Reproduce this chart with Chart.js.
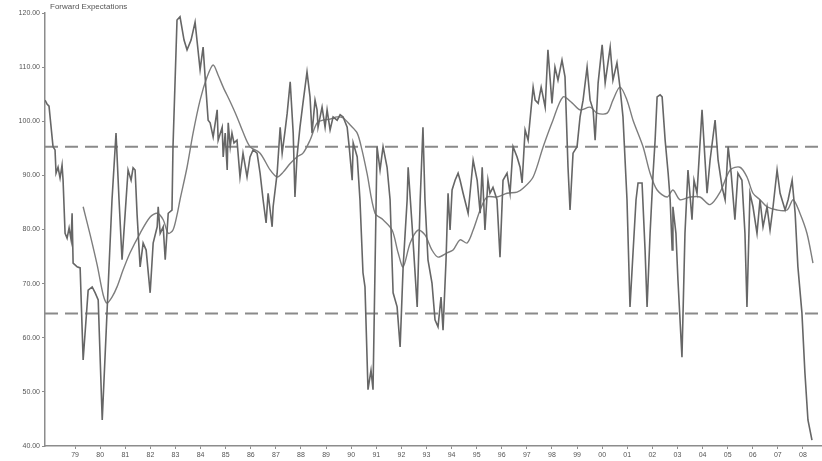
<!DOCTYPE html>
<html>
<head>
<meta charset="utf-8">
<script src="https://cdn.jsdelivr.net/npm/chart.js@4/dist/chart.umd.min.js"></script>
<style>
  html, body { margin: 0; padding: 0; background: #ffffff; }
  #wrap { width: 822px; height: 461px; position: relative; }
</style>
</head>
<body>
<div id="wrap"><canvas id="chart"></canvas></div>
<script>
// Forward Expectations index, late 1977 to mid 2008 (dates as decimal years)
const chartTitle = 'Forward Expectations';

const yearLabels = ['79','80','81','82','83','84','85','86','87','88','89','90','91','92','93','94','95','96','97','98','99','00','01','02','03','04','05','06','07','08'];

const indexDates = [
  1977.80,1977.88,1977.96,1978.12,1978.20,1978.24,1978.32,1978.40,1978.48,1978.52,
  1978.60,1978.68,1978.76,1978.84,1978.88,1978.92,1979.08,1979.20,1979.32,1979.52,
  1979.68,1979.80,1979.92,1980.08,1980.24,1980.47,1980.63,1980.75,1980.87,1980.99,
  1981.11,1981.23,1981.31,1981.39,1981.47,1981.59,1981.71,1981.83,1981.99,1982.11,
  1982.27,1982.31,1982.39,1982.51,1982.59,1982.71,1982.86,1982.90,1983.06,1983.18,
  1983.34,1983.46,1983.62,1983.78,1983.98,1984.10,1984.18,1984.30,1984.38,1984.50,
  1984.66,1984.70,1984.86,1984.90,1984.98,1985.06,1985.10,1985.18,1985.25,1985.33,
  1985.45,1985.57,1985.69,1985.85,1985.97,1986.09,1986.25,1986.37,1986.49,1986.61,
  1986.69,1986.85,1986.89,1987.05,1987.17,1987.25,1987.37,1987.45,1987.57,1987.69,
  1987.76,1987.84,1987.96,1988.08,1988.24,1988.36,1988.44,1988.56,1988.64,1988.68,
  1988.84,1988.96,1989.04,1989.16,1989.28,1989.44,1989.56,1989.68,1989.84,1989.92,
  1990.04,1990.08,1990.24,1990.35,1990.47,1990.55,1990.67,1990.79,1990.87,1991.03,
  1991.15,1991.27,1991.43,1991.55,1991.67,1991.83,1991.95,1992.07,1992.23,1992.27,
  1992.43,1992.63,1992.75,1992.86,1992.94,1993.06,1993.22,1993.34,1993.46,1993.58,
  1993.66,1993.78,1993.86,1993.94,1994.02,1994.14,1994.26,1994.34,1994.46,1994.66,
  1994.86,1995.02,1995.14,1995.22,1995.33,1995.45,1995.53,1995.65,1995.81,1995.93,
  1996.05,1996.21,1996.33,1996.45,1996.61,1996.73,1996.81,1996.93,1997.05,1997.25,
  1997.33,1997.45,1997.57,1997.73,1997.84,1998.00,1998.12,1998.24,1998.40,1998.52,
  1998.64,1998.72,1998.84,1999.00,1999.12,1999.24,1999.40,1999.52,1999.64,1999.72,
  1999.84,2000.00,2000.12,2000.32,2000.43,2000.59,2000.71,2000.83,2000.99,2001.11,
  2001.23,2001.35,2001.43,2001.59,2001.71,2001.79,2001.91,2002.03,2002.11,2002.19,
  2002.31,2002.39,2002.51,2002.63,2002.71,2002.79,2002.82,2002.94,2003.02,2003.18,
  2003.30,2003.42,2003.58,2003.66,2003.78,2003.98,2004.10,2004.18,2004.30,2004.50,
  2004.62,2004.78,2004.90,2005.02,2005.14,2005.29,2005.41,2005.57,2005.69,2005.77,
  2005.89,2006.01,2006.17,2006.29,2006.41,2006.57,2006.69,2006.81,2006.97,2007.09,
  2007.29,2007.41,2007.57,2007.69,2007.80,2007.96,2008.08,2008.20,2008.36
];
const indexValues = [
  103.9,103.2,102.8,95.3,94.7,90.4,91.5,89.5,91.9,89.1,
  79.3,78.4,80.3,78.1,83.0,73.8,73.1,72.9,55.9,68.8,
  69.4,68.3,67.0,44.8,61.4,85.5,97.8,85.5,74.4,82.7,
  91.0,89.1,91.4,91.0,82.7,73.1,77.5,76.2,68.3,77.5,
  80.5,84.2,79.3,80.5,74.4,83.0,83.6,95.3,118.7,119.3,
  115.0,113.2,115.0,118.3,109.5,113.7,108.2,100.2,99.7,97.1,
  102.1,96.5,98.9,93.4,97.8,91.0,99.7,95.3,97.8,96.0,
  96.5,89.7,94.1,89.7,93.4,94.7,94.1,90.4,85.5,81.2,
  86.7,80.5,84.2,90.4,98.9,94.1,98.4,101.5,107.3,97.8,
  86.0,93.4,98.9,103.4,109.1,104.5,97.8,103.9,102.1,98.9,
  102.6,98.9,102.1,98.4,100.8,100.2,101.2,100.8,98.9,95.3,
  89.1,96.0,93.4,85.5,72.0,69.4,50.4,54.0,50.4,95.3,
  91.0,95.3,91.5,85.5,68.3,65.7,58.3,73.1,85.5,91.5,
  80.5,65.7,85.5,98.9,85.5,74.4,70.1,63.3,62.0,67.5,
  61.4,74.4,86.7,79.9,87.3,89.1,90.4,89.1,86.7,83.0,
  92.8,89.1,83.0,91.5,79.9,89.1,86.7,87.8,85.5,74.9,
  89.1,90.4,86.7,95.3,93.4,91.5,88.6,98.4,96.5,106.3,
  103.9,103.3,106.3,102.6,113.2,103.3,110.0,107.6,111.3,108.2,
  91.5,83.6,94.1,95.3,100.8,103.9,110.0,103.9,102.1,96.5,
  107.1,114.1,107.1,113.7,107.6,110.8,106.3,100.8,85.5,65.7,
  75.7,85.5,88.6,88.6,76.2,65.7,79.3,90.4,96.5,104.5,
  104.9,104.5,96.5,90.4,85.5,76.2,84.2,79.3,70.7,56.4,
  79.3,91.0,81.8,89.1,86.7,102.1,92.8,86.7,92.8,100.2,
  92.8,87.8,85.5,95.3,90.4,81.8,90.4,89.1,79.3,65.7,
  86.7,84.2,79.3,85.5,80.5,84.2,79.9,84.2,91.0,86.7,
  83.6,85.5,89.1,83.0,73.1,64.6,53.5,44.8,41.1
];

// Smoothed (moving average) line
const avgDates = [
  1979.32,1979.60,1979.88,1980.12,1980.27,1980.47,1980.67,1980.91,1981.19,1981.59,
  1981.99,1982.27,1982.51,1982.71,1982.90,1983.06,1983.18,1983.46,1983.70,1983.98,
  1984.26,1984.50,1984.70,1984.90,1985.18,1985.45,1985.69,1985.97,1986.37,1986.77,
  1987.05,1987.29,1987.57,1987.84,1988.08,1988.36,1988.64,1988.88,1989.16,1989.44,
  1989.68,1989.96,1990.24,1990.43,1990.63,1990.95,1991.27,1991.63,1991.87,1992.07,
  1992.35,1992.66,1992.94,1993.22,1993.46,1993.82,1994.06,1994.34,1994.62,1994.86,
  1995.14,1995.41,1995.81,1996.21,1996.61,1996.85,1997.25,1997.65,1998.04,1998.44,
  1998.80,1999.12,1999.52,1999.80,2000.20,2000.43,2000.71,2000.99,2001.23,2001.63,
  2001.91,2002.19,2002.59,2002.82,2003.10,2003.50,2003.90,2004.30,2004.70,2005.10,
  2005.49,2005.77,2006.01,2006.29,2006.57,2006.97,2007.37,2007.61,2007.88,2008.16,
  2008.40
];
const avgValues = [
  84.2,79.0,73.4,67.9,66.4,67.5,69.4,72.5,75.7,79.3,
  82.3,83.0,81.8,79.3,79.9,82.7,85.5,91.5,97.8,103.9,
  108.2,110.4,108.5,106.3,103.6,100.8,98.0,95.3,94.1,91.0,
  89.7,90.6,92.2,93.4,94.1,96.5,99.7,100.2,100.4,100.8,
  100.6,99.3,97.8,94.7,90.4,83.0,81.8,79.9,75.7,73.1,
  77.5,79.9,79.0,76.2,74.9,75.7,76.2,78.1,77.5,79.9,
  83.6,86.0,86.0,86.7,86.9,87.6,89.7,95.3,100.2,104.5,
  103.4,102.1,102.6,101.5,101.5,103.9,106.3,103.9,100.2,95.3,
  90.4,87.3,86.0,87.3,85.5,86.0,86.0,84.6,86.9,91.0,
  91.5,89.7,86.7,85.5,84.2,83.6,83.6,85.5,83.0,79.3,
  73.8
];

// Horizontal reference bands
const guideLevels = [95.3, 64.5];

// Visible date range of the x axis
const xStart = 1977.80;
const xEnd = 2008.76;

const tickYears = yearLabels.map((_, i) => 1979 + i);

const toPoints = (dates, values) => dates.map((d, i) => ({ x: d, y: values[i] }));

const lineColor = '#666666';
const avgColor = '#7d7d7d';
const axisColor = '#8c8c8c';
const textColor = '#555555';

const cornerTitle = {
  id: 'cornerTitle',
  afterDraw(chart) {
    const { ctx, chartArea } = chart;
    ctx.save();
    ctx.font = '8px "Liberation Sans", Arial, sans-serif';
    ctx.fillStyle = textColor;
    ctx.textAlign = 'left';
    ctx.textBaseline = 'middle';
    ctx.fillText(chartTitle, chartArea.left + 5, 7);
    ctx.restore();
  }
};

Chart.defaults.font.family = '"Liberation Sans", Arial, sans-serif';

const guideSets = guideLevels.map(level => ({
  data: [{ x: xStart, y: level }, { x: xEnd, y: level }],
  borderColor: '#8a8a8a',
  borderWidth: 2,
  borderDash: [13, 7],
  pointRadius: 0,
  fill: false
}));

new Chart(document.getElementById('chart'), {
  type: 'line',
  data: {
    datasets: [
      {
        data: toPoints(indexDates, indexValues),
        borderColor: lineColor,
        borderWidth: 1.6,
        pointRadius: 0,
        tension: 0,
        fill: false
      },
      {
        data: toPoints(avgDates, avgValues),
        borderColor: avgColor,
        borderWidth: 1.4,
        pointRadius: 0,
        tension: 0.3,
        fill: false
      },
      ...guideSets
    ]
  },
  options: {
    responsive: true,
    maintainAspectRatio: false,
    animation: false,
    parsing: true,
    layout: { padding: { top: 13, right: 0, left: 0, bottom: 0 } },
    plugins: {
      legend: { display: false },
      tooltip: { enabled: false },
      title: { display: false }
    },
    scales: {
      x: {
        type: 'linear',
        min: xStart,
        max: xEnd,
        afterBuildTicks(scale) {
          scale.ticks = tickYears.map(v => ({ value: v }));
        },
        afterFit(scale) { scale.height = 15; },
        ticks: {
          autoSkip: false,
          maxRotation: 0,
          padding: 2,
          color: textColor,
          font: { size: 7 },
          callback: (value, index) => yearLabels[index]
        },
        grid: { drawOnChartArea: false, drawTicks: true, tickLength: 3, color: axisColor },
        border: { display: true, color: axisColor, width: 1.5 }
      },
      y: {
        min: 40,
        max: 120,
        afterFit(scale) { scale.width = 45; },
        ticks: {
          stepSize: 10,
          padding: 2,
          color: textColor,
          font: { size: 7 },
          callback: v => v.toFixed(2)
        },
        grid: { drawOnChartArea: false, drawTicks: true, tickLength: 3, color: axisColor },
        border: { display: true, color: axisColor, width: 1.5 }
      }
    }
  },
  plugins: [cornerTitle]
});
</script>
</body>
</html>
